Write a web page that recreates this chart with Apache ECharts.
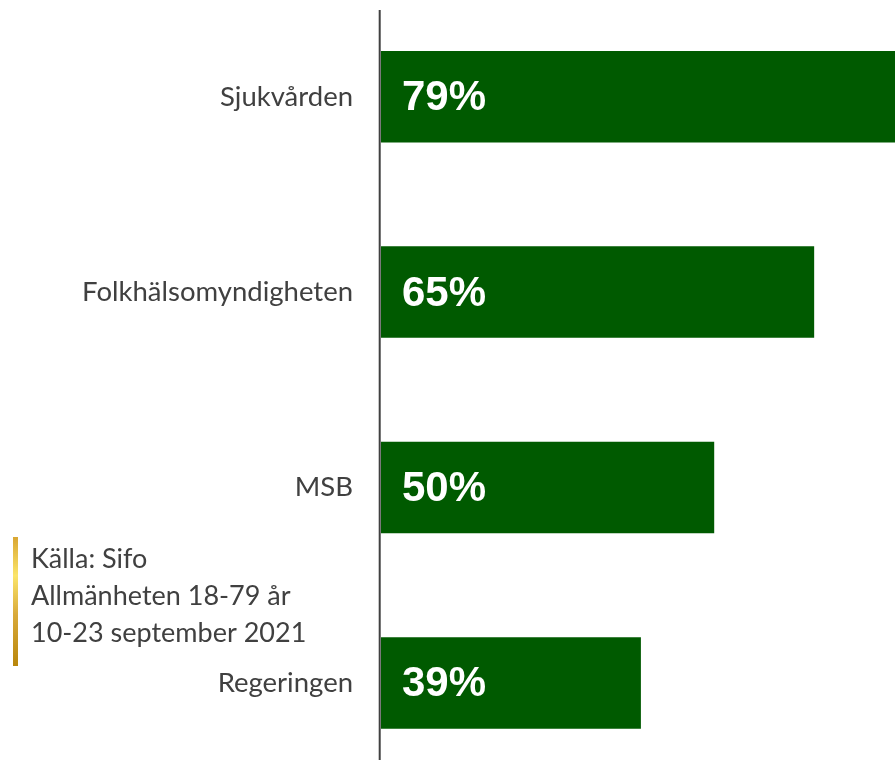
<!DOCTYPE html>
<html>
<head>
<meta charset="utf-8">
<script src="https://cdn.jsdelivr.net/npm/echarts@6/dist/echarts.min.js"></script>
<style>
  html, body { margin: 0; padding: 0; background: #fff; }
  #chart { width: 895px; height: 760px; }
</style>
</head>
<body>
<div id="chart"></div>
<script>
// data
var categories = ['Sjukvården', 'Folkhälsomyndigheten', 'MSB', 'Regeringen']
var values = [79, 65, 50, 39]
var sourceLines = ['Källa: Sifo', 'Allmänheten 18-79 år', '10-23 september 2021']

var textColor = '#404040'
var barColor = '#005a00'

var chart = echarts.init(document.getElementById('chart'))

var option = {
  animation: false,
  grid: {
    left: 381,
    right: 0,
    top: -1,
    height: 781.6,
    containLabel: false,
    outerBoundsMode: 'none'
  },
  xAxis: {
    type: 'value',
    min: 0,
    max: 77.13,
    show: false
  },
  yAxis: {
    type: 'category',
    data: categories,
    inverse: true,
    axisLine: { show: false },
    axisTick: { show: false },
    splitLine: { show: false },
    axisLabel: {
      margin: 28,
      color: textColor,
      fontFamily: 'Lato',
      fontSize: 27.5
    }
  },
  series: [
    {
      type: 'bar',
      data: values,
      barWidth: 91.5,
      itemStyle: { color: barColor },
      label: {
        show: true,
        position: 'insideLeft',
        distance: 21,
        offset: [0, 2],
        formatter: '{c}%',
        color: '#fff',
        fontFamily: 'Liberation Sans, Arial, sans-serif',
        fontWeight: 'bold',
        fontSize: 42
      }
    }
  ]
}

chart.setOption(option)

// vertical axis line and source note
var axisX = chart.convertToPixel({ xAxisIndex: 0 }, 0) - 1.3
chart.setOption({
  graphic: [
    {
      type: 'line',
      shape: { x1: axisX, y1: 10, x2: axisX, y2: 760 },
      style: { stroke: textColor, lineWidth: 2 }
    },
    {
      type: 'rect',
      shape: { x: 13, y: 537, width: 5, height: 129 },
      style: {
        fill: new echarts.graphic.LinearGradient(0, 0, 0, 1, [
          { offset: 0, color: '#d9a632' },
          { offset: 0.3, color: '#fbe56a' },
          { offset: 0.6, color: '#d9aa3a' },
          { offset: 1, color: '#b8860b' }
        ])
      }
    },
    {
      type: 'text',
      x: 31,
      y: 541,
      style: {
        text: sourceLines.join('\n'),
        fill: textColor,
        fontFamily: 'Lato',
        fontSize: 27,
        lineHeight: 37,
        verticalAlign: 'top'
      }
    }
  ]
})
</script>
</body>
</html>
